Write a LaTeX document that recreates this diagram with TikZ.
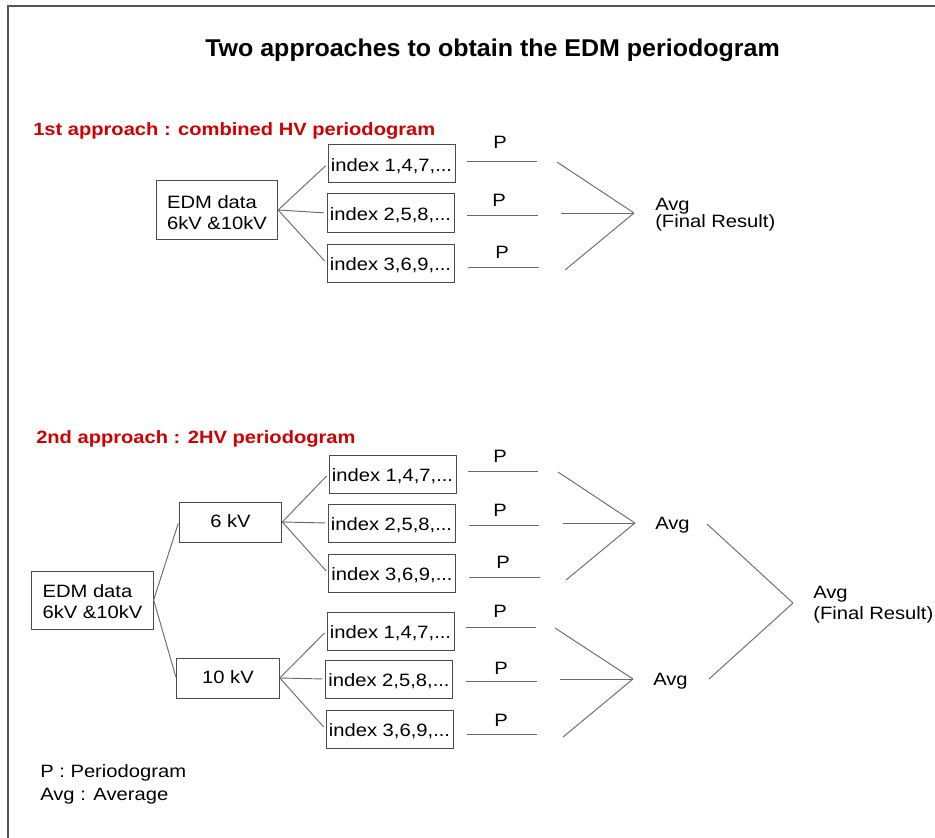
\documentclass[tikz,border=0pt]{standalone}
\usepackage{fontspec}
\setmainfont{Liberation Sans}[FakeStretch=1.13]
\newfontfamily\titlefont{Liberation Sans}[FakeStretch=1.03]
\definecolor{hdrred}{RGB}{208,0,0}
\definecolor{boxgray}{RGB}{75,75,75}
\definecolor{linegray}{RGB}{105,105,105}
\definecolor{framegray}{RGB}{85,85,85}
\begin{document}
\begin{tikzpicture}[x=0.75pt,y=-0.75pt,
  bodyfont/.style={font=\fontsize{13.4}{15.75}\selectfont},
  lbl/.style={bodyfont, inner sep=0pt, anchor=base},
  lblw/.style={bodyfont, inner sep=0pt, anchor=base west},
  hdr/.style={font=\fontsize{13.35}{16}\selectfont\bfseries, text=hdrred, inner sep=0pt, anchor=base west},
  idxbox/.style={draw=boxgray, line width=0.75pt, bodyfont, minimum width=95.25pt, minimum height=28.5pt, inner sep=0pt, text height=11pt, text depth=0pt},
  kvbox/.style={draw=boxgray, line width=0.75pt, bodyfont, minimum width=77pt, minimum height=30pt, inner sep=0pt, text height=8pt, text depth=0pt},
  edmbox/.style={draw=boxgray, line width=0.75pt, bodyfont, minimum width=91pt, minimum height=43.5pt, inner sep=0pt},
  edmtext/.style={bodyfont, inner sep=0pt, align=left},
  conn/.style={draw=linegray, line width=0.7pt},
  frame/.style={draw=framegray, line width=1pt}
]
\useasboundingbox (0,0) rectangle (935,838);
% frame
\coordinate (fbl) at (8,838);
\coordinate (ftl) at (8,6);
\coordinate (ftr) at (935,6);
\draw[frame] (fbl) -- (ftl) -- (ftr);

% title
\node[font=\fontsize{18.2}{21}\selectfont\titlefont\bfseries, inner sep=0pt, anchor=base] (title) at (492.5,57) {Two approaches to obtain the EDM periodogram};

% ---------- approach 1 ----------
\node[hdr] (h1) at (33,136) {1st approach : combined HV periodogram};
\node[edmbox] (edm1) at (217,210) {};
\node[edmtext] (edm1t) at (217,212.5) {EDM data\\6kV \&10kV};
\node[idxbox] (p1i1) at (391.5,164) {index 1,4,7,...};
\node[idxbox] (p1i2) at (390.5,213) {index 2,5,8,...};
\node[idxbox] (p1i3) at (390.5,263) {index 3,6,9,...};
\draw[conn, shorten >=2pt] (edm1.east) -- (p1i1.west);
\draw[conn, shorten >=2pt] (edm1.east) -- (p1i2.west);
\draw[conn, shorten >=2pt] (edm1.east) -- (p1i3.west);

\node[lbl] (p1P1) at (500,149) {P};
\node[lbl] (p1P2) at (499,206) {P};
\node[lbl] (p1P3) at (502,258) {P};
\coordinate (p1s1a) at (467,161); \coordinate (p1s1b) at (537,161);
\coordinate (p1s2a) at (467,215); \coordinate (p1s2b) at (538,215);
\coordinate (p1s3a) at (468,267); \coordinate (p1s3b) at (539,267);
\draw[conn] (p1s1a) -- (p1s1b);
\draw[conn] (p1s2a) -- (p1s2b);
\draw[conn] (p1s3a) -- (p1s3b);

\coordinate (p1j) at (634,213);
\coordinate (p1c1) at (557,162);
\coordinate (p1c2) at (561,213);
\coordinate (p1c3) at (565,270);
\draw[conn] (p1c1) -- (p1j);
\draw[conn] (p1c2) -- (p1j);
\draw[conn] (p1c3) -- (p1j);
\node[lblw] (p1avg) at (655,210) {Avg};
\node[lblw] (p1fin) at (655,227) {(Final Result)};

% ---------- approach 2 ----------
\node[hdr] (h2) at (36,443) {2nd approach : 2HV periodogram};
\node[edmbox] (edm2) at (92.5,600) {};
\node[edmtext] (edm2t) at (92.5,602) {EDM data\\6kV \&10kV};
\node[kvbox] (kv6) at (230.5,522) {6 kV};
\node[kvbox] (kv10) at (228,678) {10 kV};
\draw[conn, shorten >=1pt] (edm2.east) -- (kv6.west);
\draw[conn, shorten >=1pt] (edm2.east) -- (kv10.west);

\node[idxbox] (a1) at (392.5,474) {index 1,4,7,...};
\node[idxbox] (a2) at (391.5,523) {index 2,5,8,...};
\node[idxbox] (a3) at (392,573) {index 3,6,9,...};
\node[idxbox] (b1) at (390.5,631) {index 1,4,7,...};
\node[idxbox] (b2) at (389,679) {index 2,5,8,...};
\node[idxbox] (b3) at (389.5,729) {index 3,6,9,...};
\draw[conn, shorten >=2pt] (kv6.east) -- (a1.west);
\draw[conn, shorten >=2pt] (kv6.east) -- (a2.west);
\draw[conn, shorten >=2pt] (kv6.east) -- (a3.west);
\draw[conn, shorten >=2pt] (kv10.east) -- (b1.west);
\draw[conn, shorten >=2pt] (kv10.east) -- (b2.west);
\draw[conn, shorten >=2pt] (kv10.east) -- (b3.west);

\node[lbl] (aP1) at (500,462) {P};
\node[lbl] (aP2) at (500,516) {P};
\node[lbl] (aP3) at (503,568) {P};
\node[lbl] (bP1) at (500,617) {P};
\node[lbl] (bP2) at (501,674) {P};
\node[lbl] (bP3) at (501,726) {P};
\coordinate (as1a) at (468,471); \coordinate (as1b) at (538,471);
\coordinate (as2a) at (469,525); \coordinate (as2b) at (539,525);
\coordinate (as3a) at (469,577); \coordinate (as3b) at (540,577);
\coordinate (bs1a) at (466,627); \coordinate (bs1b) at (536,627);
\coordinate (bs2a) at (466,681); \coordinate (bs2b) at (537,681);
\coordinate (bs3a) at (467,734); \coordinate (bs3b) at (537,734);
\draw[conn] (as1a) -- (as1b);
\draw[conn] (as2a) -- (as2b);
\draw[conn] (as3a) -- (as3b);
\draw[conn] (bs1a) -- (bs1b);
\draw[conn] (bs2a) -- (bs2b);
\draw[conn] (bs3a) -- (bs3b);

\coordinate (aj) at (635,523);
\coordinate (ac1) at (558,472);
\coordinate (ac2) at (563,523);
\coordinate (ac3) at (566,580);
\draw[conn] (ac1) -- (aj);
\draw[conn] (ac2) -- (aj);
\draw[conn] (ac3) -- (aj);
\coordinate (bj) at (633,679);
\coordinate (bc1) at (555,628);
\coordinate (bc2) at (560,679);
\coordinate (bc3) at (563,737);
\draw[conn] (bc1) -- (bj);
\draw[conn] (bc2) -- (bj);
\draw[conn] (bc3) -- (bj);
\node[lblw] (aavg) at (655,529) {Avg};
\node[lblw] (bavg) at (653,685) {Avg};

\coordinate (fj) at (793,603);
\coordinate (fc1) at (707,524);
\coordinate (fc2) at (709,679);
\draw[conn] (fc1) -- (fj);
\draw[conn] (fc2) -- (fj);
\node[lblw] (favg) at (813,598) {Avg};
\node[lblw] (ffin) at (813,619) {(Final Result)};

% legend
\node[lblw] (leg1) at (40,777) {P : Periodogram};
\node[lblw] (leg2) at (40,800) {Avg : Average};
\end{tikzpicture}
\end{document}
